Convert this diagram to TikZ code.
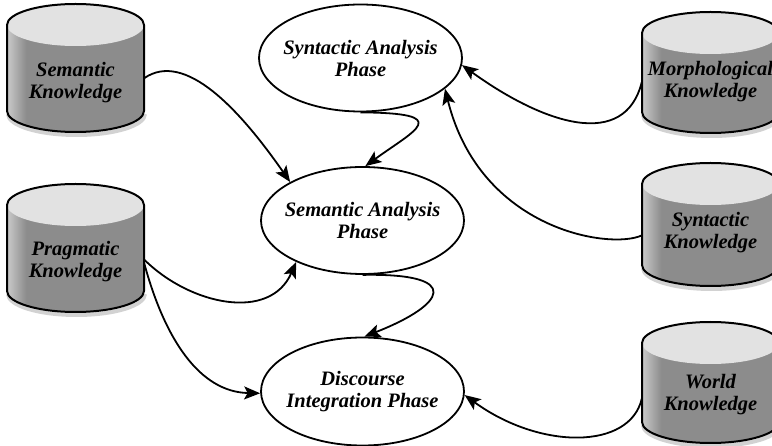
\documentclass[tikz,border=0pt]{standalone}
\usepackage{fontspec}
\setmainfont{Liberation Serif}
\usetikzlibrary{shapes.geometric, arrows.meta}

\definecolor{kbody}{HTML}{8C8C8C}
\definecolor{kside}{HTML}{CACACA}
\definecolor{ktop}{HTML}{E2E2E2}
\pgfdeclarehorizontalshading{kbodyshade}{100bp}{color(0bp)=(kside); color(25bp)=(kside); color(32bp)=(kbody); color(100bp)=(kbody)}

% knowledge store drawn as a cylinder: left x, top y, height
\newcommand{\cylbody}[3]{%
  \begin{scope}[shift={(#1,#2)}]
    \draw[kshadow] (1,#3-18) arc[start angle=180, end angle=0, x radius=68.5, y radius=21];
    \shade[shading=kbodyshade] (0,21) -- (0,#3-21) arc[start angle=180, end angle=0, x radius=68.5, y radius=21]
      -- (137,21) arc[start angle=0, end angle=-180, x radius=68.5, y radius=21] -- cycle;
    \fill[ktop] (68.5,21) ellipse[x radius=68.5, y radius=21];
    \draw[kline] (0,21) -- (0,#3-21) arc[start angle=180, end angle=0, x radius=68.5, y radius=21]
      -- (137,21) arc[start angle=0, end angle=-180, x radius=68.5, y radius=21] -- cycle;
  \end{scope}}

\tikzset{
  kshadow/.style={gray!35, line width=4pt},
  kline/.style={line width=2pt, line join=round}
}

\begin{document}
\begin{tikzpicture}[x=1pt, y=-1pt,
  kstore/.style={rectangle, inner sep=0pt, minimum width=137pt, align=center, font=\fontsize{20.5}{22}\selectfont\bfseries\itshape},
  phase/.style={ellipse, draw, line width=1.8pt, inner sep=0pt, minimum width=203pt, minimum height=107pt},
  ptext/.style={align=center, font=\fontsize{20.5}{22}\selectfont\bfseries\itshape},
  arr/.style={line width=1.8pt, -{Stealth[length=16pt, width=13pt, inset=3.5pt]}}
]
\useasboundingbox (0,0) rectangle (772,446);

% cylinders
\cylbody{7}{4}{128}
\cylbody{7}{184}{128}
\cylbody{642}{12}{121}
\cylbody{642}{163}{123}
\cylbody{642}{322}{121}

\node[kstore] (semk)   at (75.5,83)  {Semantic\\Knowledge};
\node[kstore] (pragk)  at (75.5,262) {Pragmatic\\Knowledge};
\node[kstore] (morphk) at (710.5,82) {Morphological\\Knowledge};
\node[kstore] (synk)   at (710.5,233) {Syntactic\\Knowledge};
\node[kstore] (worldk) at (710.5,395) {World\\Knowledge};

% phases
\node[phase, label={[ptext]center:Syntactic Analysis\\Phase}] (synp) at (360.5,58) {};
\node[phase, label={[ptext]center:Semantic Analysis\\Phase}] (semp) at (362.5,220.5) {};
\node[phase, minimum height=108pt, label={[ptext]center:Discourse\\Integration Phase}] (discp) at (362.5,391.5) {};

\draw[arr] (semk.4) .. controls (185,50) and (240,110) .. (semp.152);
\draw[arr] (synp.south) .. controls (455,113) and (415,130) .. (semp.87);
\draw[arr] (morphk.west) .. controls (625,150) and (545,125) .. (synp.-4);
\draw[arr] (synk.182) .. controls (610,250) and (480,230) .. (synp.-20);
\draw[arr] (pragk.2) .. controls (190,305) and (270,322) .. (semp.212);
\draw[arr] (pragk.-1) .. controls (165,340) and (200,392) .. (discp.181);
\draw[arr] (semp.south) .. controls (465,273) and (445,305) .. (discp.88);
\draw[arr] (worldk.183) .. controls (630,450) and (540,450) .. (discp.-2);
\end{tikzpicture}
\end{document}
